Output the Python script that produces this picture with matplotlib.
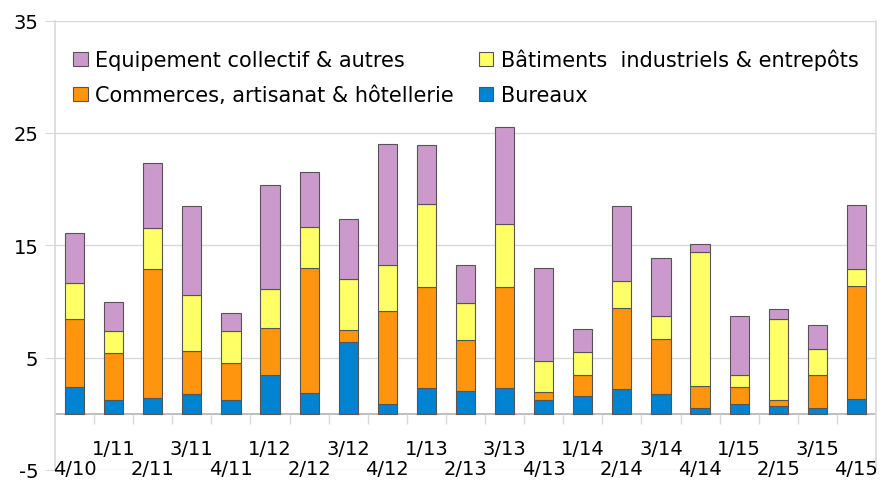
import numpy as np
import matplotlib
matplotlib.use("Agg")
import matplotlib.pyplot as plt

plt.rcParams['font.family'] = ['DejaVu Sans']
plt.rcParams['axes.unicode_minus'] = False

# quarters, staggered labels
quarters = ["4/10", "1/11", "2/11", "3/11", "4/11", "1/12", "2/12", "3/12", "4/12",
            "1/13", "2/13", "3/13", "4/13", "1/14", "2/14", "3/14", "4/14",
            "1/15", "2/15", "3/15", "4/15"]

# stacked series (bottom to top)
bureaux = [2.40, 1.26, 1.44, 1.73, 1.20, 3.48, 1.85, 6.42, 0.90, 2.33, 2.00,
           2.33, 1.20, 1.58, 2.24, 1.73, 0.49, 0.90, 0.67, 0.49, 1.35]
commerces = [6.05, 4.18, 11.46, 3.88, 3.35, 4.18, 11.15, 1.06, 8.27, 8.97, 4.53,
             8.97, 0.77, 1.90, 7.20, 4.95, 2.01, 1.51, 0.56, 2.99, 10.07]
batiments = [3.17, 1.95, 3.65, 4.98, 2.84, 3.47, 3.67, 4.48, 4.06, 7.38, 3.29,
             5.63, 2.76, 2.05, 2.40, 2.05, 11.88, 1.07, 7.23, 2.31, 1.51]
equipement = [4.44, 2.52, 5.75, 7.91, 1.60, 9.21, 4.86, 5.39, 10.78, 5.27, 3.41,
              8.63, 8.27, 2.04, 6.63, 5.12, 0.71, 5.25, 0.89, 2.14, 5.66]

series = [
    ("Bureaux", bureaux, "#0084d1"),
    ("Commerces, artisanat & hôtellerie", commerces, "#ff950e"),
    ("Bâtiments  industriels & entrepôts", batiments, "#ffff66"),
    ("Equipement collectif & autres", equipement, "#cc99cc"),
]

fig = plt.figure(figsize=(8.9, 4.85), dpi=100)
ax = fig.add_axes([55 / 890, 1 - 471 / 485, 821 / 890, 449.4 / 485])

x = np.arange(len(quarters))
bottom = np.zeros(len(quarters))
bars = {}
for name, vals, col in series:
    bars[name] = ax.bar(x, vals, 0.49, bottom=bottom, color=col,
                        edgecolor="#555555", linewidth=0.8, zorder=3)
    bottom += np.array(vals)

ax.set_xlim(-0.5, len(quarters) - 0.5)
ax.set_ylim(-5, 35)
ax.set_yticks([-5, 5, 15, 25, 35])
ax.grid(axis="y", color="#d9d9d9", linewidth=1, zorder=0)
ax.axhline(0, color="#b3b3b3", linewidth=1.2, zorder=2)

for s in ["top", "bottom"]:
    ax.spines[s].set_visible(False)
for s in ["left", "right"]:
    ax.spines[s].set_color("#d9d9d9")
    ax.spines[s].set_linewidth(1.2)

ax.tick_params(axis="y", length=7, color="#d9d9d9", pad=5, labelsize=14)
ax.set_xticks([])

# tick marks between categories, below zero
ax.vlines(np.arange(len(quarters) - 1) + 0.5, -0.9, 0, color="#d9d9d9",
          linewidth=1, zorder=2)

for i, q in enumerate(quarters):
    yy = -3.1 if i % 2 else -4.85
    ax.text(i, yy, q, ha="center", va="center", fontsize=14, zorder=4)

# legend fills column by column: this order gives the two rows of the original
order = ["Equipement collectif & autres", "Commerces, artisanat & hôtellerie",
         "Bâtiments  industriels & entrepôts", "Bureaux"]
ax.legend([bars[n] for n in order], order, ncol=2, loc="upper left",
          bbox_to_anchor=(0.022, 0.937), frameon=False, fontsize=15,
          handlelength=0.7, handleheight=0.7, handletextpad=0.35,
          columnspacing=1.2, labelspacing=0.72, borderpad=0, borderaxespad=0)

fig.savefig("out.png", dpi=100)
